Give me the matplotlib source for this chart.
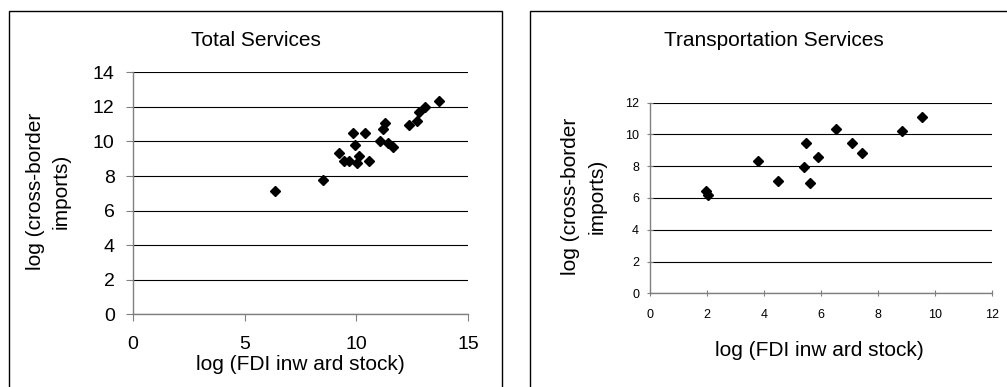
import matplotlib.pyplot as plt
from matplotlib.patches import Rectangle

plt.rcParams['font.family'] = ['Liberation Sans', 'DejaVu Sans']

# Total services: log FDI inward stock vs log cross-border imports
total_x = [6.36, 8.49, 9.22, 9.46, 9.68, 9.85, 9.94, 10.01, 10.11, 10.38, 10.56,
           11.07, 11.17, 11.28, 11.40, 11.65, 12.33, 12.69, 12.80, 13.06, 13.70]
total_y = [7.13, 7.75, 9.35, 8.89, 8.89, 10.51, 9.80, 8.73, 9.16, 10.51, 8.89,
           10.05, 10.72, 11.09, 9.89, 9.70, 10.95, 11.18, 11.69, 12.01, 12.36]

# Transportation services
trans_x = [1.96, 2.04, 3.79, 4.50, 5.40, 5.47, 5.61, 5.90, 6.53, 7.08, 7.44, 8.85, 9.53]
trans_y = [6.46, 6.21, 8.33, 7.07, 7.97, 9.44, 6.96, 8.60, 10.34, 9.44, 8.85, 10.22, 11.12]

W, H = 1007, 387
fig = plt.figure(figsize=(W / 100, H / 100), dpi=100)

def px(x0, y0, x1, y1):
    # pixel box (top-left origin) -> figure fraction rect
    return [x0 / W, 1 - y1 / H, (x1 - x0) / W, (y1 - y0) / H]

# panel frames
for x0, x1 in [(9, 502), (530, 1040)]:
    fig.patches.append(Rectangle((x0 / W, -0.2), (x1 - x0) / W, 1.2 - 11 / H,
                                 transform=fig.transFigure, fill=False,
                                 edgecolor='black', linewidth=1.0))

def style(ax, xlim, ylim, xticks, yticks, fs, xpad, ypad, tdir, tlen):
    ax.set_xlim(*xlim)
    ax.set_ylim(*ylim)
    ax.set_xticks(xticks)
    ax.set_yticks(yticks)
    ax.yaxis.grid(True, color='black', linewidth=0.8)
    ax.set_axisbelow(True)
    for s in ['top', 'right']:
        ax.spines[s].set_visible(False)
    for s in ['left', 'bottom']:
        ax.spines[s].set_color('#808080')
        ax.spines[s].set_linewidth(1.0)
    ax.tick_params(axis='x', direction=tdir, length=tlen, color='#808080',
                   labelsize=fs, pad=xpad)
    ax.tick_params(axis='y', direction=tdir, length=tlen, color='#808080',
                   labelsize=fs, pad=ypad)

ax1 = fig.add_axes(px(132.7, 72.3, 468.3, 314.3))
ax1.plot(total_x, total_y, 'D', color='black', markersize=4.8, clip_on=False)
style(ax1, (0, 15), (0, 14), [0, 5, 10, 15], range(0, 15, 2), 14, 10.5, 8, 'out', 5)

ax2 = fig.add_axes(px(650, 102.7, 992.3, 293.3))
ax2.plot(trans_x, trans_y, 'D', color='black', markersize=4.8, clip_on=False)
style(ax2, (0, 12), (0, 12), range(0, 13, 2), range(0, 13, 2), 9, 9.5, 5.8, 'inout', 4)

# titles and axis labels
fig.text(256 / W, 1 - 41 / H, 'Total Services', ha='center', va='center', fontsize=15)
fig.text(774 / W, 1 - 41 / H, 'Transportation Services', ha='center', va='center', fontsize=15)
fig.text(48 / W, 1 - 191 / H, 'log (cross-border\nimports)', ha='center', va='center',
         rotation=90, fontsize=15, linespacing=1.45)
fig.text(584 / W, 1 - 196 / H, 'log (cross-border\nimports)', ha='center', va='center',
         rotation=90, fontsize=15, linespacing=1.5)
fig.text(300 / W, 1 - 364 / H, 'log (FDI inw ard stock)', ha='center', va='center', fontsize=15)
fig.text(819 / W, 1 - 351 / H, 'log (FDI inw ard stock)', ha='center', va='center', fontsize=15)

fig.savefig('out.png', dpi=100)
